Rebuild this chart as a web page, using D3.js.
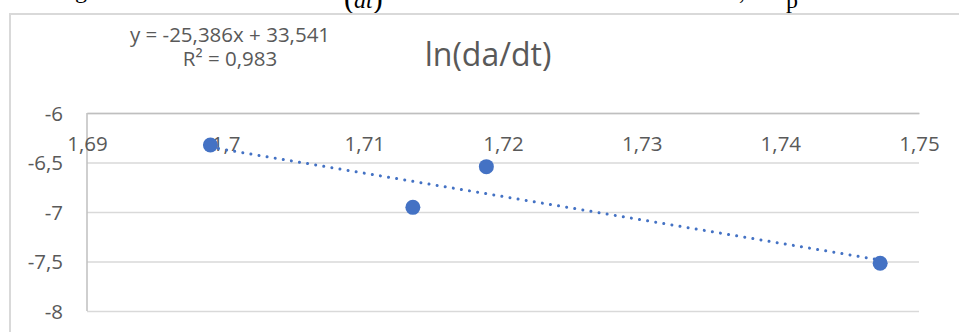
<!DOCTYPE html>
<html>
<head>
<meta charset="utf-8">
<script src="https://cdn.jsdelivr.net/npm/d3@7"></script>
<style>
  html, body { margin: 0; padding: 0; background: #fff; }
  svg { display: block; }
  text { font-family: "Open Sans", "Noto Sans", sans-serif; }
</style>
</head>
<body>
<svg id="chart" width="959" height="332"></svg>
<script>
// Measured points: x = 1/T-like abscissa, y = ln(da/dt)
const xValues = [1.6989, 1.7135, 1.7188, 1.7472];
const yValues = [-6.323, -6.953, -6.542, -7.518];

const xTicks = [1.69, 1.70, 1.71, 1.72, 1.73, 1.74, 1.75];
const yTicks = [-6, -6.5, -7, -7.5, -8];

const chartTitle = "ln(da/dt)";
const equationLines = ["y = -25,386x + 33,541", "R² = 0,983"];

const W = 959, H = 332;
const plot = { left: 87, right: 919, top: 113, bottom: 311 };

const svg = d3.select("#chart");

// Fragments of the surrounding document line above the chart
const doc = svg.append("g")
  .attr("font-family", "'Liberation Serif', 'DejaVu Serif', serif")
  .attr("fill", "#000");
doc.append("text").attr("x", 75).attr("y", -2).attr("font-size", 24)
  .style("font-family", "'Liberation Serif', serif").text("g");
const frac = doc.append("text").attr("x", 344).attr("y", 8)
  .style("font-family", "'Liberation Serif', serif");
frac.append("tspan").attr("font-size", 30).text("(");
frac.append("tspan").attr("font-size", 24).attr("font-style", "italic").text("dt");
frac.append("tspan").attr("font-size", 30).text(")");
doc.append("text").attr("x", 739).attr("y", -1).attr("font-size", 24)
  .style("font-family", "'Liberation Serif', serif").text(",");
doc.append("text").attr("x", 786).attr("y", 8).attr("font-size", 24)
  .style("font-family", "'Liberation Serif', serif").text("p");

// Chart frame (runs past the right and bottom edges)
svg.append("rect")
  .attr("x", 10).attr("y", 14)
  .attr("width", W + 20).attr("height", H + 20)
  .attr("fill", "#fff")
  .attr("stroke", "#d9d9d9").attr("stroke-width", 2);

const x = d3.scaleLinear().domain([1.69, 1.75]).range([plot.left, plot.right]);
const y = d3.scaleLinear().domain([-8, -6]).range([plot.bottom, plot.top]);

const fmt = v => String(+v.toFixed(2)).replace(".", ",");

// Horizontal gridlines
svg.append("g")
  .attr("transform", `translate(${plot.left},0)`)
  .call(d3.axisLeft(y).tickValues(yTicks).tickSize(-(plot.right - plot.left)).tickFormat(""))
  .call(g => g.select(".domain").remove())
  .call(g => g.selectAll(".tick line").attr("stroke", "#d9d9d9").attr("stroke-width", 1.5));

// Vertical axis line and its labels
svg.append("line")
  .attr("x1", plot.left).attr("x2", plot.left)
  .attr("y1", plot.top).attr("y2", plot.bottom)
  .attr("stroke", "#bfbfbf").attr("stroke-width", 1.5);

const yAxis = svg.append("g")
  .attr("transform", `translate(63,0)`)
  .call(d3.axisLeft(y).tickValues(yTicks).tickSize(0).tickPadding(0).tickFormat(fmt));
yAxis.select(".domain").remove();
yAxis.selectAll("text")
  .attr("font-size", 20.5).attr("fill", "#595959")
  .attr("font-family", "'Open Sans', sans-serif")
  .attr("dy", "0.36em");

// Horizontal axis sits at the top of the value range (-6)
const xAxis = svg.append("g")
  .attr("transform", `translate(0,${y(-6)})`)
  .call(d3.axisBottom(x).tickValues(xTicks).tickSize(0).tickPadding(0).tickFormat(fmt));
xAxis.select(".domain").attr("stroke", "#bfbfbf").attr("stroke-width", 1.5);
xAxis.selectAll("text")
  .attr("font-size", 20.5).attr("fill", "#595959")
  .attr("font-family", "'Open Sans', sans-serif")
  .attr("y", 38).attr("dy", 0);

// Title
svg.append("text")
  .attr("x", 488).attr("y", 66)
  .attr("text-anchor", "middle")
  .attr("font-size", 32).attr("fill", "#595959")
  .text(chartTitle);

// Trendline equation label
const eq = svg.append("g").attr("fill", "#595959").attr("font-size", 20.5);
equationLines.forEach((t, i) => {
  eq.append("text")
    .attr("x", 230).attr("y", 42 + i * 23.5)
    .attr("text-anchor", "middle")
    .text(t);
});

// Least-squares linear trendline computed from the series
const n = xValues.length;
const mx = d3.mean(xValues), my = d3.mean(yValues);
let sxy = 0, sxx = 0;
for (let i = 0; i < n; i++) {
  sxy += (xValues[i] - mx) * (yValues[i] - my);
  sxx += (xValues[i] - mx) ** 2;
}
const slope = sxy / sxx, intercept = my - slope * mx;
const [x0, x1] = d3.extent(xValues);

svg.append("line")
  .attr("x1", x(x0)).attr("y1", y(slope * x0 + intercept))
  .attr("x2", x(x1)).attr("y2", y(slope * x1 + intercept))
  .attr("stroke", "#4472c4").attr("stroke-width", 3)
  .attr("stroke-linecap", "round")
  .attr("stroke-dasharray", "0.01 8.2");

// Markers
svg.append("g")
  .selectAll("circle")
  .data(xValues.map((v, i) => [v, yValues[i]]))
  .join("circle")
  .attr("cx", d => x(d[0]))
  .attr("cy", d => y(d[1]))
  .attr("r", 7.5)
  .attr("fill", "#4472c4");
</script>
</body>
</html>
